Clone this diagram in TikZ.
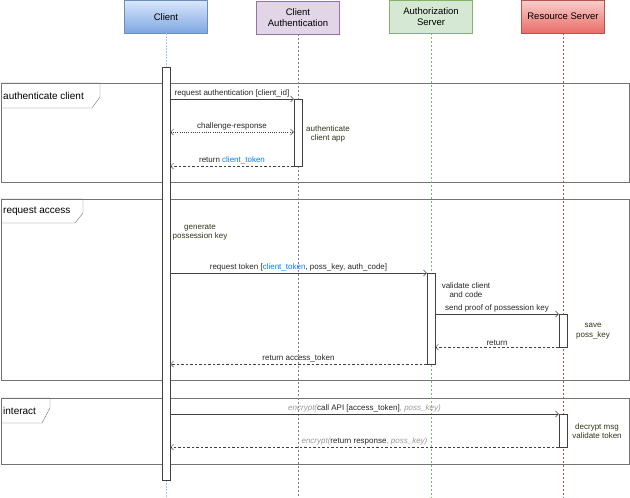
\documentclass[tikz,border=0pt]{standalone}
\usepackage{fontspec}
\setmainfont{Liberation Sans}
\usetikzlibrary{arrows.meta}

\definecolor{clientblue}{HTML}{6C8EBF}
\definecolor{clientlight}{HTML}{DAE8FC}
\definecolor{clientdark}{HTML}{7EA6E0}
\definecolor{clientline}{HTML}{A9C4EB}
\definecolor{authpurple}{HTML}{9673A6}
\definecolor{authfill}{HTML}{E1D5E7}
\definecolor{servergreen}{HTML}{82B366}
\definecolor{serverfill}{HTML}{D5E8D4}
\definecolor{resred}{HTML}{B85450}
\definecolor{reslight}{HTML}{F8CECC}
\definecolor{resdark}{HTML}{EA6B66}
\definecolor{tokenblue}{HTML}{007FFF}
\definecolor{noteolive}{HTML}{33331A}

\newcommand{\tok}[1]{\textcolor{tokenblue}{#1}}
\newcommand{\enc}[1]{\textcolor{black!40}{\itshape #1}}

\begin{document}
\begin{tikzpicture}[x=1pt, y=-1pt,
  head/.style={draw, minimum width=83pt, minimum height=33pt, inner sep=1pt,
    align=center, font=\fontsize{9.5}{11}\selectfont, anchor=north},
  bar/.style={draw=black!75, fill=white, minimum width=8.5pt, inner sep=0pt,
    outer sep=0pt, anchor=north},
  msg/.style={draw=black!75, -{Straight Barb[length=3pt,width=6pt]}},
  ret/.style={msg, dash pattern=on 2.5pt off 2pt},
  lbl/.style={font=\fontsize{8}{9.5}\selectfont, text=black!85, inner sep=1.5pt},
  note/.style={font=\fontsize{8}{9.5}\selectfont, text=noteolive, align=center},
  framebox/.style={draw=black!55},
  framelbl/.style={font=\fontsize{10}{12}\selectfont, anchor=west, inner sep=0pt}]

\useasboundingbox (0,0) rectangle (630,498);

% frames
\draw[framebox] (1,83) rectangle (629,182);
\draw[framebox] (1,83) -- (100,83) -- (100,97) -- (92,108) -- (1,108);
\node[framelbl] (fauth) at (3,96) {authenticate client};

\draw[framebox] (1,199) rectangle (629,380);
\draw[framebox] (1,199) -- (83,199) -- (83,213) -- (75,223) -- (1,223);
\node[framelbl] (faccess) at (3,211) {request access};

\draw[framebox] (1,398) rectangle (629,464);
\draw[framebox] (1,398) -- (50,398) -- (50,408) -- (42,423) -- (1,423);
\node[framelbl] (finteract) at (3,411) {interact};

% heads
\node[head, draw=clientblue, top color=clientlight, bottom color=clientdark] (client) at (166,0) {Client};
\node[head, draw=authpurple, fill=authfill] (clientauth) at (298,1) {Client\\Authentication};
\node[head, draw=servergreen, fill=serverfill] (authserver) at (431,0) {Authorization\\Server};
\node[head, draw=resred, top color=reslight, bottom color=resdark] (resserver) at (563,0) {Resource Server};

% lifelines
\coordinate (clientend) at (166,498);
\coordinate (clientauthend) at (298,498);
\coordinate (authserverend) at (431,498);
\coordinate (resserverend) at (563,498);
\draw[clientline, line width=0.9pt, dash pattern=on 1.5pt off 1.5pt] (client.south) -- (clientend);
\draw[authpurple, line width=0.6pt, dash pattern=on 2pt off 2pt] (clientauth.south) -- (clientauthend);
\draw[servergreen, line width=0.6pt, dash pattern=on 2pt off 2pt] (authserver.south) -- (authserverend);
\draw[resred, line width=0.6pt, dash pattern=on 2pt off 2pt] (resserver.south) -- (resserverend);

% activations
\node[bar, minimum height=413pt] (clientbar) at (166,67) {};
\node[bar, minimum height=67pt] (cabar) at (298,99) {};
\node[bar, minimum height=91pt] (asbar) at (431,273) {};
\node[bar, minimum height=33pt] (rsbar) at (563,314) {};
\node[bar, minimum height=33pt] (rsbartwo) at (563,414) {};

% authenticate client
\draw[msg] (clientbar.east |- cabar.north) -- (cabar.north west)
  node[lbl, midway, above] {request authentication [client\_id]};
\draw[msg, {Straight Barb[length=3pt,width=6pt]}-{Straight Barb[length=3pt,width=6pt]},
  dash pattern=on 1pt off 1.2pt] (clientbar.east |- 0,132) -- (cabar.west |- 0,132)
  node[lbl, midway, above] {challenge-response};
\draw[ret] (cabar.south west) -- (clientbar.east |- cabar.south)
  node[lbl, midway, above] {return \tok{client\_token}};
\node[note] (authnote) at (328,134) {authenticate\\client app};

% request access
\node[note] (gennote) at (200,232) {generate\\possession key};
\draw[msg] (clientbar.east |- asbar.north) -- (asbar.north west)
  node[lbl, midway, above] {request token [\tok{client\_token}, poss\_key, auth\_code]};
\node[lbl, align=center] (validnote) at (466,290) {validate client\\and code};
\draw[msg] (asbar.east |- rsbar.north) -- (rsbar.north west)
  node[lbl, midway, above] {send proof of possession key};
\node[note] (savenote) at (593,331) {save\\poss\_key};
\draw[ret] (rsbar.south west) -- (asbar.east |- rsbar.south)
  node[lbl, midway, above] {return};
\draw[ret] (asbar.south west) -- (clientbar.east |- asbar.south)
  node[lbl, midway, above] {return access\_token};

% interact
\draw[msg] (clientbar.east |- rsbartwo.north) -- (rsbartwo.north west)
  node[lbl, midway, above] {\enc{encrypt(}call API [access\_token]\enc{, poss\_key)}};
\node[note] (decnote) at (597,431) {decrypt msg\\validate token};
\draw[ret] (rsbartwo.south west) -- (clientbar.east |- rsbartwo.south)
  node[lbl, midway, above] {\enc{encrypt(}return response\enc{, poss\_key)}};

\end{tikzpicture}
\end{document}
